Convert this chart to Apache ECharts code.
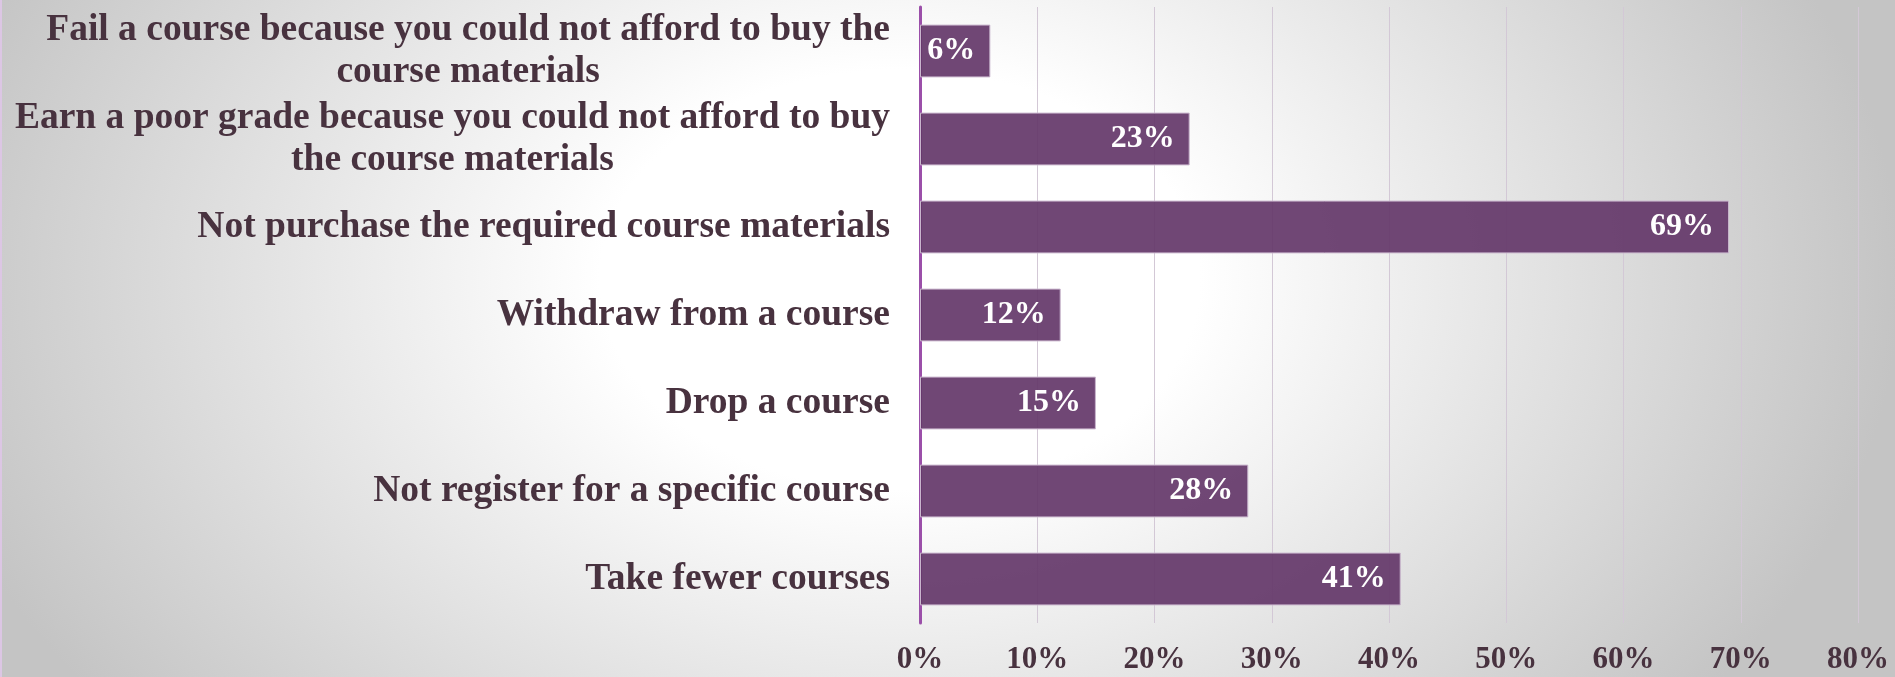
<!DOCTYPE html>
<html>
<head>
<meta charset="utf-8">
<script src="https://cdn.jsdelivr.net/npm/echarts@6/dist/echarts.min.js"></script>
<style>
  html, body { margin: 0; padding: 0; }
  #chart {
    width: 1895px; height: 677px;
    background: radial-gradient(ellipse 1000px 700px at 900px 280px, #ffffff 0%, #ffffff 30%, #c4c4c4 100%);
  }
</style>
</head>
<body>
<div id="chart"></div>
<script>
const categories = [
  "Fail a course because you could not afford to buy the\ncourse materials",
  "Earn a poor grade because you could not afford to buy\nthe course materials",
  "Not purchase the required course materials",
  "Withdraw from a course",
  "Drop a course",
  "Not register for a specific course",
  "Take fewer courses"
];
const values = [6, 23, 69, 12, 15, 28, 41];
const xTicks = { min: 0, max: 80, interval: 10 };

const FONT = '"Liberation Serif", "Times New Roman", serif';
const chart = echarts.init(document.getElementById('chart'));
chart.setOption({
  backgroundColor: 'transparent',
  animation: false,
  graphic: [{
    type: 'rect', left: 0, top: 0,
    shape: { width: 2, height: 677 },
    style: { fill: '#dcc6e4' }
  }],
  grid: { left: 920, right: 37, top: 7, bottom: 54, containLabel: false },
  xAxis: {
    type: 'value',
    min: xTicks.min, max: xTicks.max, interval: xTicks.interval,
    axisLine: { show: false },
    axisTick: { show: false },
    splitLine: { show: true, lineStyle: { color: '#d3c8d6', width: 1 } },
    axisLabel: {
      formatter: '{value}%',
      margin: 21,
      color: '#48323f',
      fontFamily: FONT,
      fontWeight: 'bold',
      fontSize: 31
    }
  },
  yAxis: {
    type: 'category',
    inverse: true,
    data: categories,
    axisTick: { show: false },
    axisLine: { show: true, lineStyle: { color: '#9b4fa9', width: 3 } },
    axisLabel: {
      margin: 30,
      align: 'right',
      formatter: function (v) {
        return v.split('\n').map(function (l) { return '{c|' + l + '}'; }).join('\n');
      },
      rich: {
        c: {
          align: 'center',
          color: '#48323f',
          fontFamily: FONT,
          fontWeight: 'bold',
          fontSize: 37.5,
          lineHeight: 42
        }
      }
    }
  },
  series: [{
    type: 'bar',
    data: values,
    barCategoryGap: '40%',
    itemStyle: {
      color: 'rgba(100,55,105,0.92)',
      borderColor: '#c9b6cd',
      borderWidth: 1
    },
    label: {
      show: true,
      position: 'insideRight',
      distance: 15,
      formatter: '{c}%',
      color: '#ffffff',
      fontFamily: FONT,
      fontWeight: 'bold',
      fontSize: 32
    }
  }]
});
</script>
</body>
</html>
